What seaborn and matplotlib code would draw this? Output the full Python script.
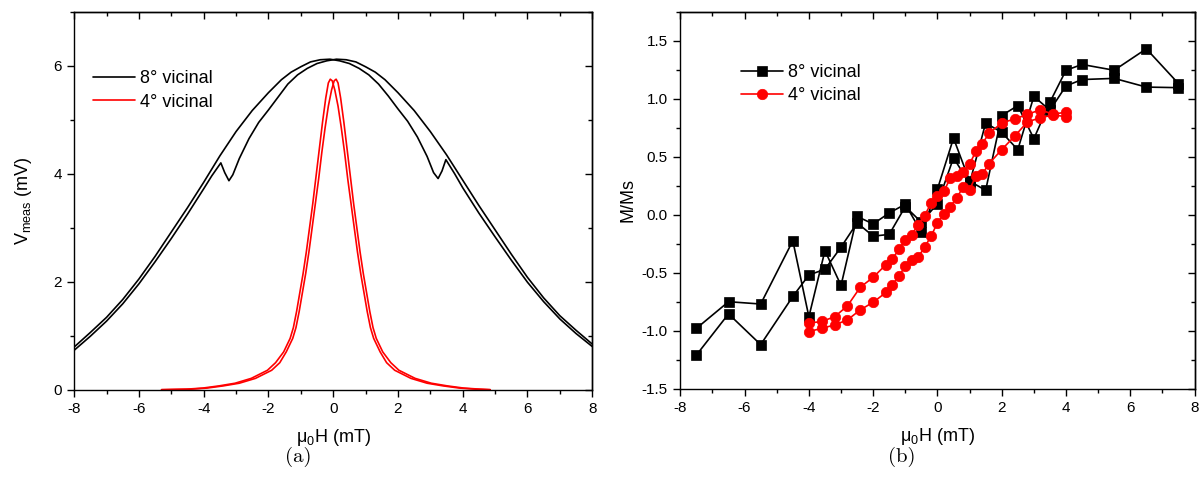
import matplotlib
matplotlib.use('Agg')
import matplotlib.pyplot as plt
from matplotlib.ticker import MultipleLocator, FormatStrFormatter
import seaborn as sns

# ---------------- (a) V_meas vs field ----------------
# 8 deg vicinal, sweep with the dip on the left side
h8a = [-8.0, -7.5, -7.0, -6.5, -6.0, -5.5, -5.0, -4.5, -4.0, -3.75, -3.47, -3.35, -3.22,
       -3.1, -2.9, -2.6, -2.3, -2.0, -1.7, -1.4, -1.1, -0.8, -0.5, -0.2, 0.1, 0.4, 0.7,
       1.0, 1.3, 1.6, 2.0, 2.5, 3.0, 3.5, 4.0, 4.5, 5.0, 5.5, 6.0, 6.5, 7.0, 7.5, 8.0]
v8a = [0.73, 0.99, 1.27, 1.59, 1.96, 2.37, 2.80, 3.25, 3.72, 3.96, 4.20, 4.02, 3.87,
       3.98, 4.28, 4.65, 4.95, 5.18, 5.42, 5.66, 5.83, 5.95, 6.04, 6.09, 6.12, 6.11, 6.07,
       5.98, 5.88, 5.74, 5.50, 5.17, 4.78, 4.35, 3.88, 3.41, 2.96, 2.51, 2.08, 1.70, 1.37,
       1.10, 0.845]
# 8 deg vicinal, sweep with the dip on the right side
h8b = [-8.0, -7.5, -7.0, -6.5, -6.0, -5.5, -5.0, -4.5, -4.0, -3.5, -3.0, -2.5, -2.0,
       -1.6, -1.3, -1.0, -0.7, -0.4, -0.1, 0.2, 0.5, 0.8, 1.1, 1.4, 1.7, 2.0, 2.3, 2.6,
       2.9, 3.1, 3.24, 3.36, 3.48, 3.75, 4.0, 4.5, 5.0, 5.5, 6.0, 6.5, 7.0, 7.5, 8.0]
v8b = [0.79, 1.06, 1.34, 1.67, 2.05, 2.47, 2.92, 3.37, 3.84, 4.33, 4.78, 5.17, 5.50,
       5.74, 5.88, 5.98, 6.07, 6.11, 6.12, 6.09, 6.04, 5.95, 5.83, 5.66, 5.44, 5.20, 4.97,
       4.68, 4.32, 4.02, 3.91, 4.05, 4.26, 4.00, 3.74, 3.27, 2.83, 2.40, 1.99, 1.63, 1.31,
       1.04, 0.80]
# 4 deg vicinal, two sweeps
h4a = [-5.3, -4.4, -3.9, -3.4, -2.9, -2.4, -1.9, -1.65, -1.45, -1.25, -1.15, -1.05, -0.95,
       -0.85, -0.75, -0.65, -0.55, -0.45, -0.35, -0.25, -0.15, -0.05, 0.03, 0.09, 0.15,
       0.23, 0.33, 0.43, 0.53, 0.63, 0.73, 0.83, 0.93, 1.03, 1.13, 1.23, 1.33, 1.53, 1.78,
       2.03, 2.53, 3.03, 3.53, 4.03, 4.53, 4.85]
v4a = [0.0, 0.01, 0.03, 0.07, 0.12, 0.21, 0.36, 0.5, 0.7, 0.95, 1.15, 1.45, 1.8,
       2.15, 2.55, 3.0, 3.45, 3.9, 4.4, 4.85, 5.25, 5.55, 5.72, 5.75, 5.68,
       5.4, 4.95, 4.45, 3.95, 3.45, 3.0, 2.55, 2.15, 1.8, 1.45, 1.15, 0.95, 0.7, 0.5,
       0.36, 0.21, 0.12, 0.07, 0.03, 0.01, 0.0]
h4b = [-5.3, -4.53, -4.03, -3.53, -3.03, -2.53, -2.03, -1.78, -1.53, -1.33, -1.23, -1.13,
       -1.03, -0.93, -0.83, -0.73, -0.63, -0.53, -0.43, -0.33, -0.23, -0.15, -0.09, -0.03,
       0.05, 0.15, 0.25, 0.35, 0.45, 0.55, 0.65, 0.75, 0.85, 0.95, 1.05, 1.15, 1.25, 1.45,
       1.65, 1.9, 2.4, 2.9, 3.4, 3.9, 4.4, 4.85]
v4b = [0.0, 0.01, 0.03, 0.07, 0.12, 0.21, 0.36, 0.5, 0.7, 0.95, 1.15, 1.45,
       1.8, 2.15, 2.55, 3.0, 3.45, 3.95, 4.45, 4.95, 5.4, 5.68, 5.75, 5.72,
       5.55, 5.25, 4.85, 4.4, 3.9, 3.45, 3.0, 2.55, 2.15, 1.8, 1.45, 1.15, 0.95, 0.7,
       0.5, 0.36, 0.21, 0.12, 0.07, 0.03, 0.01, 0.0]

# ---------------- (b) M/Ms vs field ----------------
h_sq = [-7.5, -6.5, -5.5, -4.5, -4.0, -3.5, -3.0, -2.5, -2.0, -1.5, -1.0, -0.5, 0.0,
        0.5, 1.0, 1.5, 2.0, 2.5, 3.0, 3.5, 4.0, 4.5, 5.5, 6.5, 7.5]
m_sq_up = [-0.98, -0.75, -0.77, -0.225, -0.88, -0.31, -0.61, -0.015, -0.08, 0.015, 0.09,
           -0.15, 0.22, 0.66, 0.29, 0.21, 0.855, 0.94, 0.655, 0.97, 1.245, 1.295, 1.245,
           1.43, 1.13]
m_sq_down = [-1.21, -0.855, -1.12, -0.705, -0.52, -0.47, -0.28, -0.07, -0.185, -0.17, 0.07,
             -0.065, 0.095, 0.49, 0.27, 0.79, 0.71, 0.56, 1.02, 0.90, 1.11, 1.165, 1.175,
             1.10, 1.095]
h_ci = [-4.0, -3.6, -3.2, -2.8, -2.4, -2.0, -1.6, -1.4, -1.2, -1.0, -0.8, -0.6, -0.4, -0.2,
        0.0, 0.2, 0.4, 0.6, 0.8, 1.0, 1.2, 1.4, 1.6, 2.0, 2.4, 2.8, 3.2, 3.6, 4.0]
m_ci_up = [-1.007, -0.98, -0.95, -0.907, -0.82, -0.755, -0.67, -0.605, -0.527, -0.446, -0.389,
           -0.366, -0.28, -0.187, -0.069, 0.005, 0.07, 0.144, 0.239, 0.216, 0.337, 0.351,
           0.438, 0.561, 0.676, 0.80, 0.835, 0.86, 0.845]
m_ci_down = [-0.935, -0.92, -0.88, -0.786, -0.625, -0.54, -0.43, -0.38, -0.30, -0.216, -0.173,
             -0.086, -0.008, 0.098, 0.158, 0.20, 0.317, 0.337, 0.365, 0.438, 0.547, 0.613,
             0.70, 0.79, 0.826, 0.864, 0.905, 0.865, 0.885]

sns.set_style('ticks', {'axes.edgecolor': 'black', 'xtick.color': 'black',
                        'ytick.color': 'black', 'text.color': 'black',
                        'axes.labelcolor': 'black'})
plt.rcParams['font.family'] = ['Liberation Sans', 'DejaVu Sans']
plt.rcParams['mathtext.default'] = 'regular'
plt.rcParams['axes.unicode_minus'] = False
plt.rcParams['axes.linewidth'] = 1.0

fig = plt.figure(figsize=(12.02, 4.97), dpi=100)
ax1 = fig.add_axes([0.0617, 0.2159, 0.431, 0.7606])
ax2 = fig.add_axes([0.566, 0.2179, 0.4278, 0.7586])

# panel (a)
sns.lineplot(x=h8a, y=v8a, ax=ax1, color='black', lw=1.2, sort=False, estimator=None,
             label='8° vicinal')
sns.lineplot(x=h8b, y=v8b, ax=ax1, color='black', lw=1.2, sort=False, estimator=None)
sns.lineplot(x=h4a, y=v4a, ax=ax1, color='red', lw=1.2, sort=False, estimator=None,
             label='4° vicinal')
sns.lineplot(x=h4b, y=v4b, ax=ax1, color='red', lw=1.2, sort=False, estimator=None)

# panel (b): each sample drawn as one loop (up sweep, then back down)
sns.lineplot(x=h_sq + h_sq[::-1], y=m_sq_up + m_sq_down[::-1], ax=ax2, color='black',
             lw=1.2, sort=False, estimator=None, marker='s', markersize=7,
             markeredgecolor='black', markeredgewidth=0.5, label='8° vicinal')
sns.lineplot(x=h_ci + h_ci[::-1], y=m_ci_up + m_ci_down[::-1], ax=ax2, color='red',
             lw=1.2, sort=False, estimator=None, marker='o', markersize=7.5,
             markeredgecolor='red', markeredgewidth=0.5, label='4° vicinal')


def style_axis(ax, ylim, ymaj, ymin, yfmt):
    ax.set_xlim(-8, 8)
    ax.set_ylim(*ylim)
    ax.xaxis.set_major_locator(MultipleLocator(2))
    ax.xaxis.set_minor_locator(MultipleLocator(1))
    ax.yaxis.set_major_locator(MultipleLocator(ymaj))
    ax.yaxis.set_minor_locator(MultipleLocator(ymin))
    ax.yaxis.set_major_formatter(FormatStrFormatter(yfmt))
    ax.tick_params(which='major', direction='out', length=5, width=1, labelsize=11, pad=4)
    ax.tick_params(which='minor', direction='out', length=3, width=1)
    for sp in ax.spines.values():
        sp.set_visible(True)
        sp.set_linewidth(1.0)
    # mirrored ticks pointing inwards on top and right
    top = ax.secondary_xaxis('top')
    top.xaxis.set_major_locator(MultipleLocator(2))
    top.xaxis.set_minor_locator(MultipleLocator(1))
    top.tick_params(which='major', direction='in', length=5, width=1, labeltop=False)
    top.tick_params(which='minor', direction='in', length=3, width=1)
    right = ax.secondary_yaxis('right')
    right.yaxis.set_major_locator(MultipleLocator(ymaj))
    right.yaxis.set_minor_locator(MultipleLocator(ymin))
    right.tick_params(which='major', direction='in', length=5, width=1, labelright=False)
    right.tick_params(which='minor', direction='in', length=3, width=1)
    ax.set_xlabel(r'$\mu_0$H (mT)', fontsize=13, labelpad=8)


style_axis(ax1, (0, 7), 2, 1, '%d')
style_axis(ax2, (-1.5, 1.75), 0.5, 0.25, '%.1f')
ax1.set_ylabel(r'V$_{meas}$ (mV)', fontsize=13, labelpad=14)
ax2.set_ylabel('M/Ms', fontsize=13, labelpad=4)

ax1.legend(loc='upper left', bbox_to_anchor=(0.037, 0.845), frameon=False, fontsize=13,
           handlelength=2.3, handletextpad=0.3, labelspacing=0.35, borderpad=0,
           borderaxespad=0)
ax2.legend(loc='upper left', bbox_to_anchor=(0.118, 0.86), frameon=False, fontsize=13,
           handlelength=2.3, handletextpad=0.3, labelspacing=0.3, borderpad=0,
           borderaxespad=0)

fig.text(0.248, 0.08, '(a)', fontsize=15, family=['cmr10', 'DejaVu Serif'],
         ha='center', va='center')
fig.text(0.750, 0.08, '(b)', fontsize=15, family=['cmr10', 'DejaVu Serif'],
         ha='center', va='center')

fig.savefig('out.png', dpi=100)
